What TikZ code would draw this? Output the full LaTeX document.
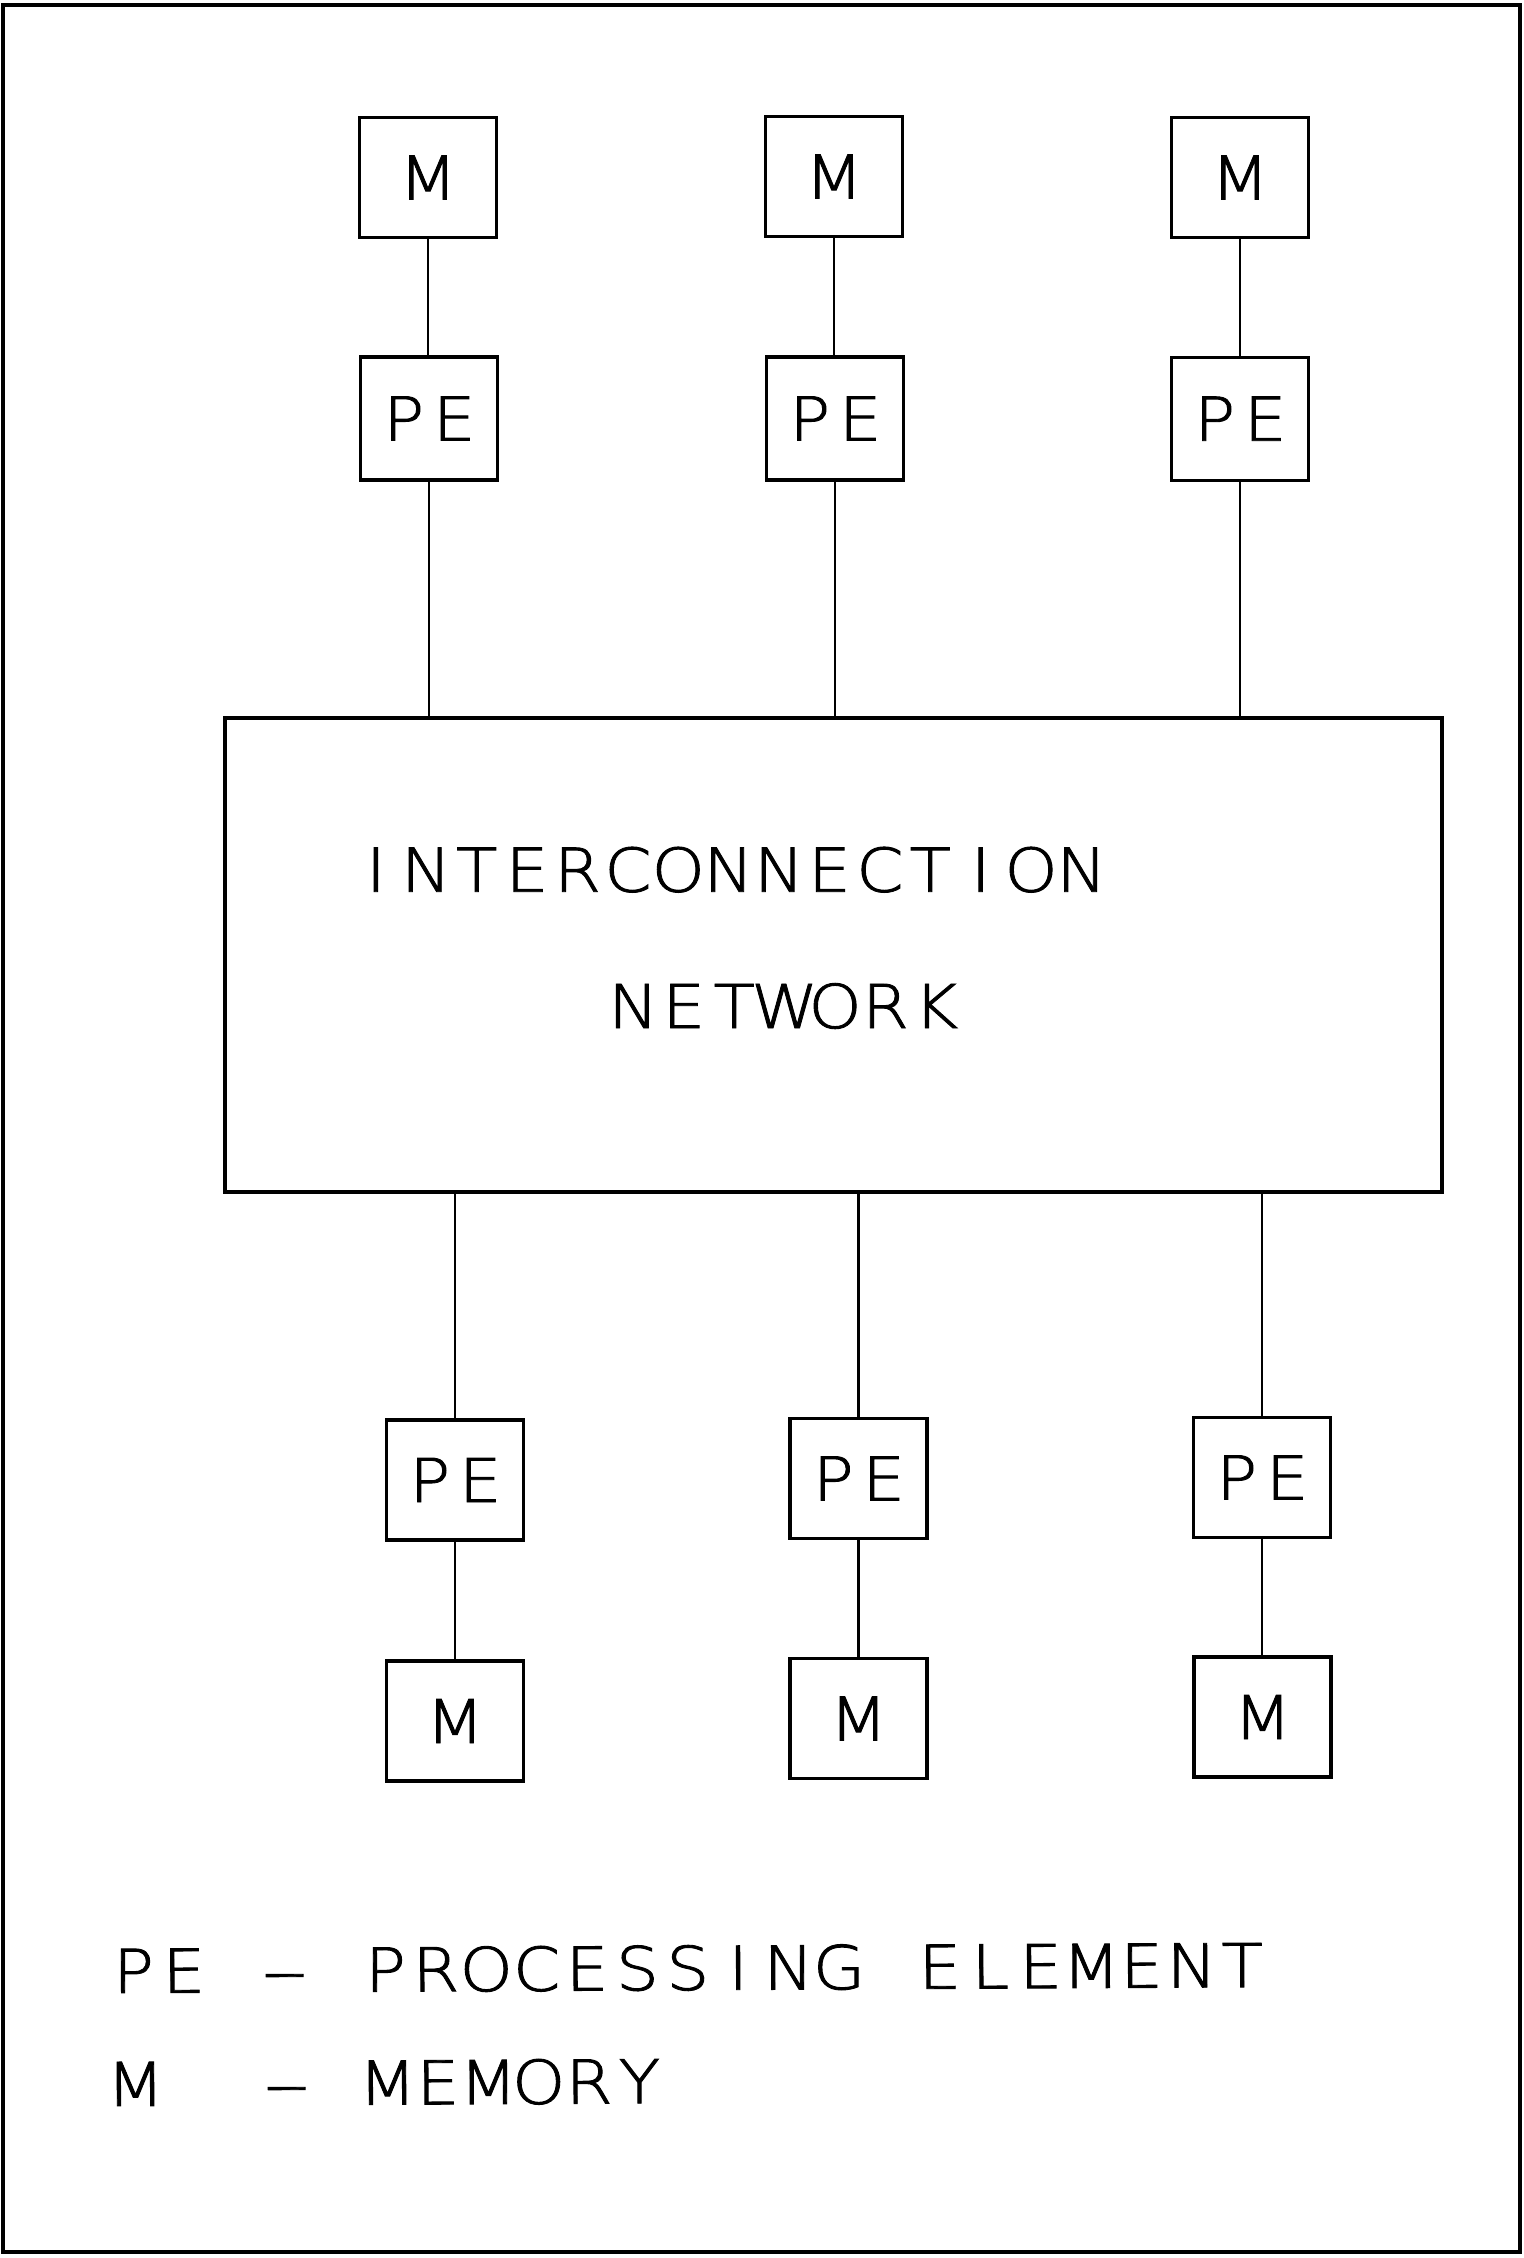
\documentclass[tikz,border=0pt]{standalone}
\usepackage{fontspec}
\newfontfamily\plotfont{DejaVu Sans ExtraLight}[FakeStretch=1.12, FakeBold=1.5]
% fixed character pitch, as on a pen plotter
\newlength\plpitch
\setlength\plpitch{25.2pt}
\makeatletter
\newcommand\plstr[1]{\@tfor\pl@c:=#1\do{\makebox[\plpitch][c]{\pl@c}}}
\makeatother
\newcommand\pldash{\scalebox{1.35}[1]{–}}
\newcommand\plotsize{\plotfont\fontsize{30.2pt}{36pt}\selectfont}

\begin{document}
\begin{tikzpicture}[x=0.5pt, y=-0.5pt, line join=miter,
  unitbox/.style={draw, line width=1.7pt, minimum width=68.5pt,
    minimum height=60pt, inner sep=0pt, font=\plotsize},
  netbox/.style={draw, line width=1.7pt, minimum width=608.5pt,
    minimum height=237pt, inner sep=0pt},
  plottext/.style={inner sep=0pt, anchor=base west, font=\plotsize},
  link/.style={line width=1.3pt}]

\useasboundingbox (0,0) rectangle (1523,2258);

% outer frame
\draw[line width=2pt] (2.5,5) rectangle (1520,2252);

% interconnection network
\node[netbox] (net) at (833.5,955) {};
\node[plottext] (netA) at (350.3,891.7) {\plstr{INTERCONNECTION}};
\node[plottext] (netB) at (607.8,1028) {\plstr{NETWORK}};

% upper processing elements with their memories
\node[unitbox] (tm1) at (428,177.5) {M};
\node[unitbox, minimum height=61.5pt] (tp1) at (429,418.5) {\plstr{PE}};
\node[unitbox] (tm2) at (834,176.5) {M};
\node[unitbox, minimum height=61.5pt] (tp2) at (835,418.5) {\plstr{PE}};
\node[unitbox] (tm3) at (1240,177.5) {M};
\node[unitbox, minimum height=61.5pt] (tp3) at (1240,418.7) {\plstr{PE}};

% lower processing elements with their memories
\node[unitbox] (bp1) at (455,1480) {\plstr{PE}};
\node[unitbox] (bm1) at (455,1721) {M};
\node[unitbox] (bp2) at (858.5,1478.5) {\plstr{PE}};
\node[unitbox] (bm2) at (858.5,1718.5) {M};
\node[unitbox] (bp3) at (1262,1477.5) {\plstr{PE}};
\node[unitbox] (bm3) at (1262.5,1717) {M};

% memory to processing element links
\foreach \i in {1,2,3} {
  \draw[link] (tm\i.south) -- (tm\i.south |- tp\i.north);
  \draw[link] (tp\i.south) -- (tp\i.south |- net.north);
  \draw[link] (bp\i.north |- net.south) -- (bp\i.north);
  \draw[link] (bp\i.south) -- (bp\i.south |- bm\i.north);
}

% legend
\node[plottext, rotate=0.3] (keyPE) at (108,1993) {\plstr{PE~\pldash~PROCESSING~ELEMENT}};
\node[plottext, rotate=0.3] (keyM) at (110,2106) {\plstr{M~~\pldash~MEMORY}};

\end{tikzpicture}
\end{document}
